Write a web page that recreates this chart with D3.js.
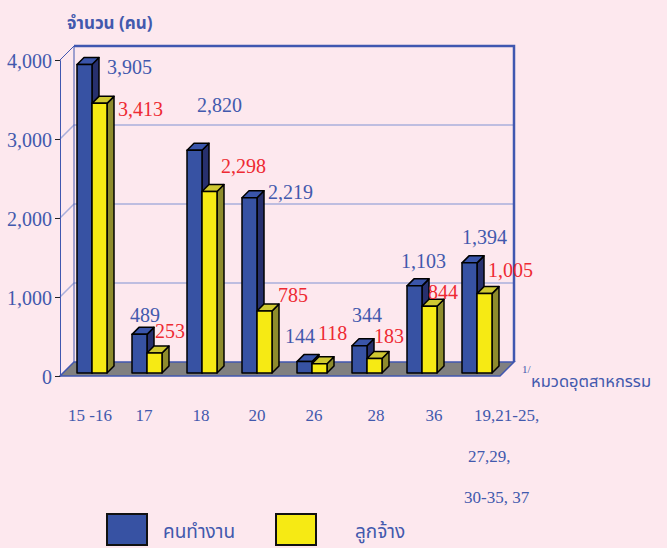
<!DOCTYPE html>
<meta charset="utf-8">
<style>
  body { margin: 0; background: #fde8ee; }
  svg { display: block; background: #fde8ee; }
  .num { font-family: "Liberation Serif", "Times New Roman", serif; }
  .thai { font-family: "Noto Sans Thai", "Noto Sans", "DejaVu Sans", sans-serif; }
</style>
<svg width="667" height="548"></svg>
<script src="https://cdn.jsdelivr.net/npm/d3@7/dist/d3.min.js"></script>
<script>

  // data
  var categories = ["15 -16", "17", "18", "20", "26", "28", "36", "19,21-25,|27,29,|30-35, 37"];
  var workers = [3905, 489, 2820, 2219, 144, 344, 1103, 1394];     // คนทำงาน
  var employees = [3413, 253, 2298, 785, 118, 183, 844, 1005];     // ลูกจ้าง
  var yTicks = [0, 1000, 2000, 3000, 4000];
  var seriesNames = ["คนทำงาน", "ลูกจ้าง"];

  // label nudges (px), the original labels were placed by hand
  var workerNudge = [[30, 9], [-2, -12], [10, -38], [26, 1], [-12, -19], [0, -24], [-6, -18], [0, -19]];
  var employeeNudge = [[26, 13], [8, -15], [19, -18], [21, -9], [6, -24], [7, -16], [6, -7], [11, -17]];
  var tickNudge = [-2, -3, -1, 0, 2, 9, 12, 0];

  var svg = d3.select("svg");
  var D = 14;            // depth of the box
  var bz0 = 3, bz1 = 10; // bar depth inside the box
  var barW = 15;

  var x = d3.scaleBand().domain(categories).range([60, 500]);
  var y = d3.scaleLinear().domain([0, 4000]).range([376, 60]);
  var fmt = d3.format(",");

  var blue = { front: "#3752a3", top: "#3a55aa", side: "#27306e" };
  var yellow = { front: "#f6ea14", top: "#cfc832", side: "#8e8c2c" };
  var axisBlue = "#4057b0";
  var textBlue = "#4259ad";
  var red = "#ee2a33";

  function pt(px, py, z) { return [px + z, py - z]; }
  function poly(pts) { return "M" + pts.map(function (p) { return p.join(","); }).join("L") + "Z"; }

  // floor
  svg.append("path")
    .attr("d", poly([pt(60, y(0), 0), pt(500, y(0), 0), pt(500, y(0), D), pt(60, y(0), D)]))
    .attr("fill", "#808080");

  // gridlines: diagonal on the left wall + across the back wall
  var g = svg.append("g");
  yTicks.filter(function (d) { return d > 0 && d < 4000; }).forEach(function (t) {
    var a = pt(60, y(t), 0), b = pt(60, y(t), D), c = pt(500, y(t), D);
    g.append("path").attr("d", "M" + a + "L" + b + "L" + c)
      .attr("fill", "none").attr("stroke", "#a9aedb").attr("stroke-width", 1.5);
  });

  // box outline
  var tl = pt(60, y(4000), D), tr = pt(500, y(4000), D), br = pt(500, y(0), D), bl = pt(60, y(0), D);
  svg.append("path").attr("d", "M" + bl + "L" + tl)
    .attr("fill", "none").attr("stroke", axisBlue).attr("stroke-width", 1);
  svg.append("path").attr("d", "M" + tl + "L" + tr + "L" + br)
    .attr("fill", "none").attr("stroke", axisBlue).attr("stroke-width", 2.5);
  svg.append("path").attr("d", "M" + pt(60, y(4000), 0) + "L" + tl)
    .attr("fill", "none").attr("stroke", axisBlue).attr("stroke-width", 1);
  svg.append("path").attr("d", "M" + pt(60, y(0), 0) + "L" + pt(500, y(0), 0) + "L" + br + "L" + bl + "Z")
    .attr("fill", "none").attr("stroke", axisBlue).attr("stroke-width", 1.5);

  // y axis
  var yAxis = svg.append("g").attr("transform", "translate(60,0)")
    .call(d3.axisLeft(y).tickValues(yTicks).tickFormat(fmt).tickSize(5).tickPadding(3));
  yAxis.select(".domain").attr("stroke", axisBlue);
  yAxis.selectAll(".tick line").attr("stroke", "#222");
  yAxis.selectAll("text").attr("class", "num").attr("font-size", 20).attr("fill", textBlue)
    .attr("dy", "0.38em");

  // bars
  function bar3d(sel, bx, v, col) {
    var yt = y(v), yb = y(0);
    var f = [pt(bx, yt, bz0), pt(bx + barW, yt, bz0), pt(bx + barW, yb, bz0), pt(bx, yb, bz0)];
    var tp = [pt(bx, yt, bz0), pt(bx + barW, yt, bz0), pt(bx + barW, yt, bz1), pt(bx, yt, bz1)];
    var sd = [pt(bx + barW, yt, bz0), pt(bx + barW, yt, bz1), pt(bx + barW, yb, bz1), pt(bx + barW, yb, bz0)];
    [[sd, col.side], [tp, col.top], [f, col.front]].forEach(function (p) {
      sel.append("path").attr("d", poly(p[0])).attr("fill", p[1])
        .attr("stroke", "#000").attr("stroke-width", 1.5).attr("stroke-linejoin", "round");
    });
  }

  var bars = svg.append("g");
  categories.forEach(function (c, i) {
    var bx = x(c) + 14;
    bar3d(bars, bx, workers[i], blue);
    bar3d(bars, bx + barW, employees[i], yellow);
  });

  // value labels
  var labels = svg.append("g").attr("class", "num").attr("font-size", 20);
  categories.forEach(function (c, i) {
    var bx = x(c) + 14;
    var pw = pt(bx, y(workers[i]), bz0);
    labels.append("text").attr("x", pw[0] + workerNudge[i][0]).attr("y", pw[1] + workerNudge[i][1])
      .attr("fill", textBlue).text(fmt(workers[i]));
    var pe = pt(bx + barW, y(employees[i]), bz0);
    labels.append("text").attr("x", pe[0] + employeeNudge[i][0]).attr("y", pe[1] + employeeNudge[i][1])
      .attr("fill", red).text(fmt(employees[i]));
  });

  // category labels
  var xl = svg.append("g").attr("class", "num").attr("font-size", 17).attr("fill", textBlue);
  categories.forEach(function (c, i) {
    var cx = x(c) + 14 + bz0 + barW + tickNudge[i];
    var lines = c.split("|");
    if (lines.length === 1) {
      xl.append("text").attr("x", cx).attr("y", 421).attr("text-anchor", "middle").text(c);
    } else {
      var lx = [cx - 3, cx - 9, cx - 13];
      lines.forEach(function (s, j) {
        xl.append("text").attr("x", lx[j]).attr("y", 421 + j * 41).text(s);
      });
    }
  });

  // axis titles
  svg.append("text").attr("class", "thai").attr("x", 67).attr("y", 29)
    .attr("font-size", 17).attr("font-weight", "bold").attr("fill", textBlue).text("จำนวน (คน)");
  svg.append("text").attr("class", "num").attr("x", 522).attr("y", 373)
    .attr("font-size", 11).attr("fill", textBlue).text("1/");
  svg.append("text").attr("class", "thai").attr("x", 531).attr("y", 387)
    .attr("font-size", 16.5).attr("fill", textBlue).text("หมวดอุตสาหกรรม");

  // legend
  var legend = svg.append("g");
  [[107, blue.front, 163], [276, yellow.front, 355]].forEach(function (d, i) {
    legend.append("rect").attr("x", d[0]).attr("y", 514).attr("width", 40).attr("height", 31)
      .attr("fill", d[1]).attr("stroke", "#111").attr("stroke-width", 2);
    legend.append("text").attr("class", "thai").attr("x", d[2]).attr("y", 538)
      .attr("font-size", 19).attr("fill", textBlue).text(seriesNames[i]);
  });

</script>
